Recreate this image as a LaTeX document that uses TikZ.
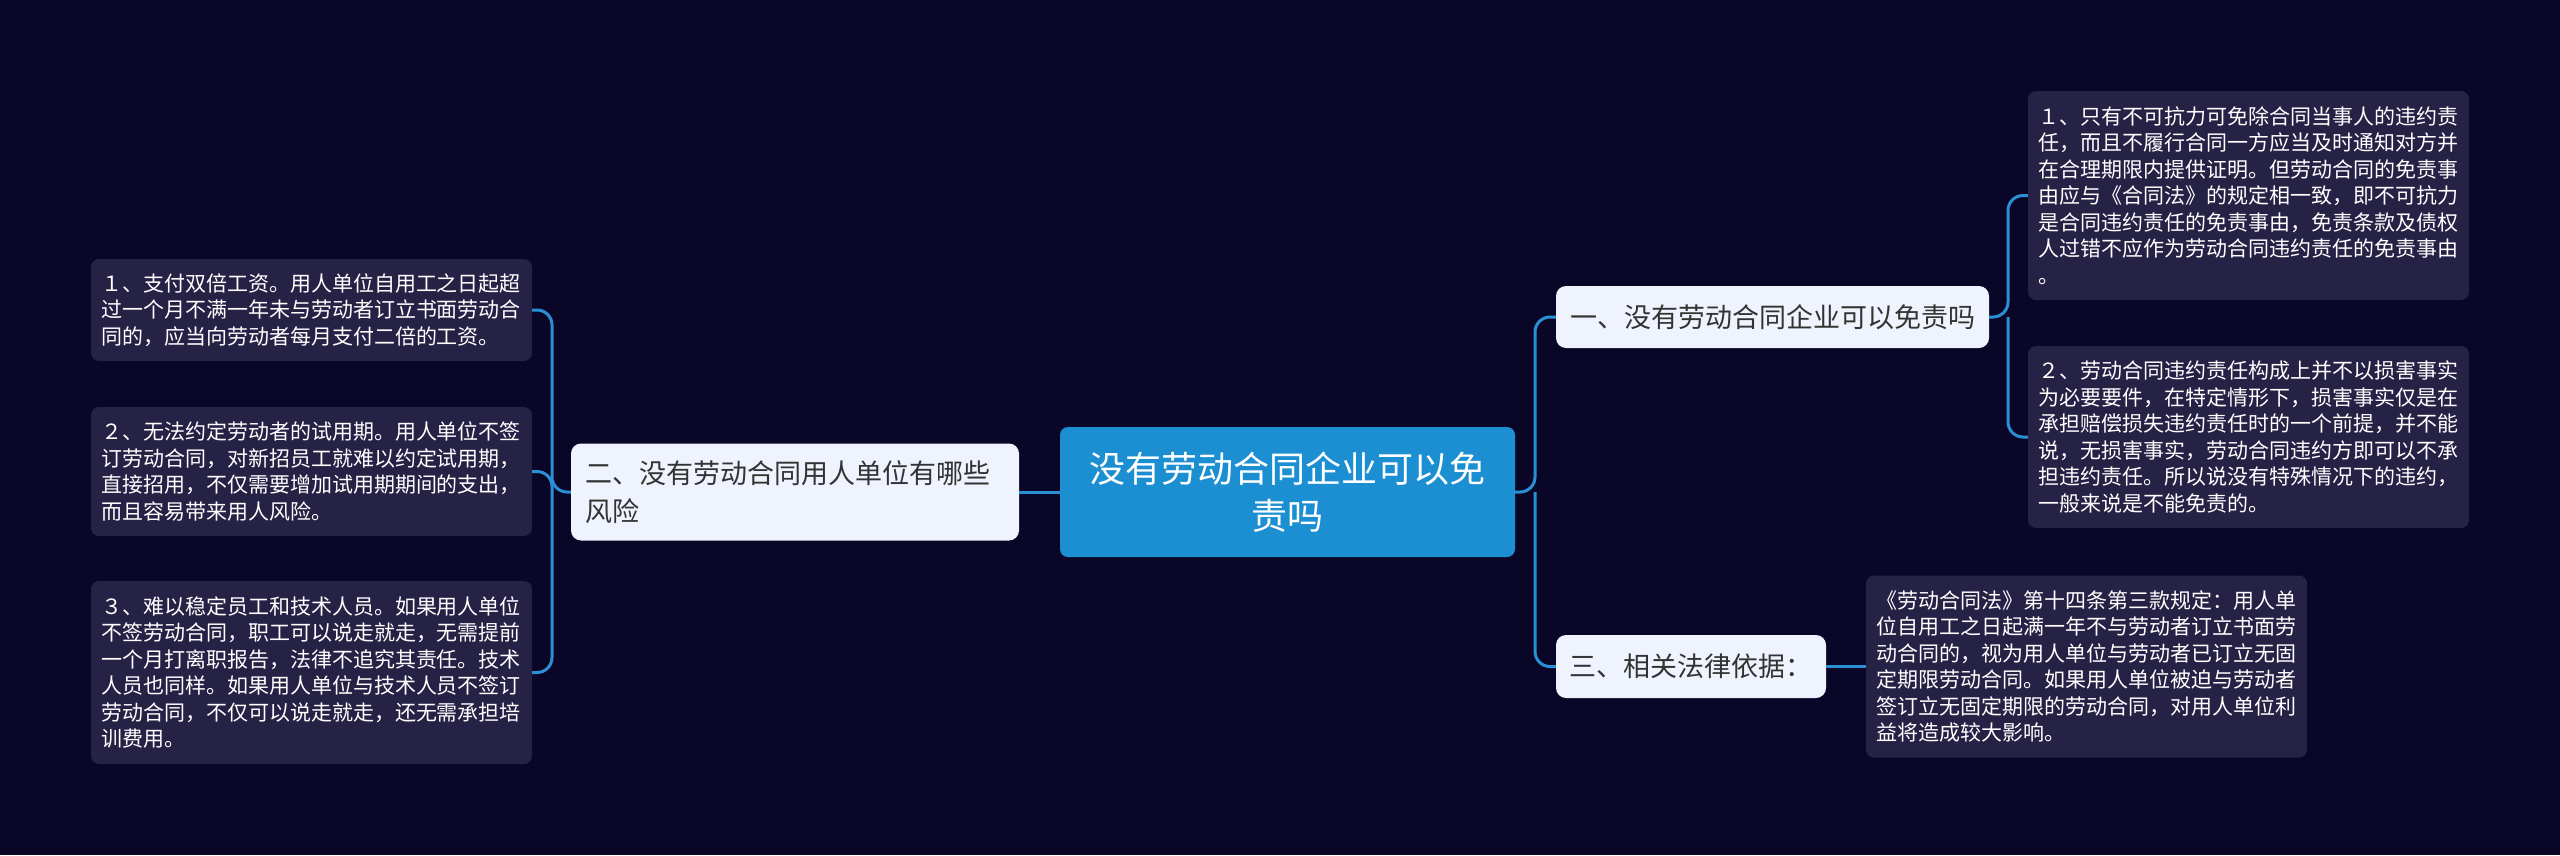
\documentclass[tikz,border=0pt]{standalone}
\usepackage{fontspec}
\newfontfamily\cjk{Noto Sans CJK SC}
\definecolor{bgc}{HTML}{0A0628}
\definecolor{leafc}{HTML}{262246}
\definecolor{connc}{HTML}{2A8FD5}
\definecolor{rootc}{HTML}{1B8FD2}
\definecolor{lightc}{HTML}{EEF3FD}
\definecolor{darktext}{HTML}{333333}
\tikzset{
  leaf/.style={fill=leafc, rounded corners=8pt, text=white,
    font=\cjk\fontsize{21}{26.5}\selectfont, text width=421pt,
    inner xsep=10pt, inner ysep=0pt, align=left},
  rootbox/.style={fill=rootc, rounded corners=8pt, text=white,
    font=\cjk\fontsize{36}{47}\selectfont, text width=420pt,
    inner xsep=17.5pt, inner ysep=0pt, align=center, minimum height=130pt},
  mainbox/.style={fill=lightc, rounded corners=10pt, text=darktext,
    font=\cjk\fontsize{27}{38}\selectfont, inner ysep=0pt, align=left},
  conn/.style={draw=connc, line width=3pt, rounded corners=15pt}
}
\begin{document}
\begin{tikzpicture}[x=1pt,y=-1pt]
\fill[bgc] (0,0) rectangle (2560,855);
\useasboundingbox (0,0) rectangle (2560,855);

% root
\node[rootbox] (root) at (1287.5,492) {没有劳动合同企业可以免\\责吗};

% main branches
\node[mainbox, text width=420pt, inner xsep=14pt, minimum height=97pt] (n2) at (795,492) {二、没有劳动合同用人单位有哪些\\风险};
\node[mainbox, text width=405pt, inner xsep=14pt, minimum height=62pt] (n1) at (1772.5,317) {一、没有劳动合同企业可以免责吗};
\node[mainbox, text width=243pt, inner xsep=13.5pt, minimum height=63pt] (n3) at (1691,666.5) {三、相关法律依据：};

% right leaves
\node[leaf, minimum height=209pt] (r1) at (2248.5,195.5) {１、只有不可抗力可免除合同当事人的违约责\\任，而且不履行合同一方应当及时通知对方并\\在合理期限内提供证明。但劳动合同的免责事\\由应与《合同法》的规定相一致，即不可抗力\\是合同违约责任的免责事由，免责条款及债权\\人过错不应作为劳动合同违约责任的免责事由\\。};
\node[leaf, minimum height=182pt] (r2) at (2248.5,437) {２、劳动合同违约责任构成上并不以损害事实\\为必要要件，在特定情形下，损害事实仅是在\\承担赔偿损失违约责任时的一个前提，并不能\\说，无损害事实，劳动合同违约方即可以不承\\担违约责任。所以说没有特殊情况下的违约，\\一般来说是不能免责的。};
\node[leaf, minimum height=182pt] (r3) at (2086.5,666.5) {《劳动合同法》第十四条第三款规定：用人单\\位自用工之日起满一年不与劳动者订立书面劳\\动合同的，视为用人单位与劳动者已订立无固\\定期限劳动合同。如果用人单位被迫与劳动者\\签订立无固定期限的劳动合同，对用人单位利\\益将造成较大影响。};

% left leaves
\node[leaf, minimum height=102pt] (l1) at (311.5,310) {１、支付双倍工资。用人单位自用工之日起超\\过一个月不满一年未与劳动者订立书面劳动合\\同的，应当向劳动者每月支付二倍的工资。};
\node[leaf, minimum height=129pt] (l2) at (311.5,471.5) {２、无法约定劳动者的试用期。用人单位不签\\订劳动合同，对新招员工就难以约定试用期，\\直接招用，不仅需要增加试用期期间的支出，\\而且容易带来用人风险。};
\node[leaf, minimum height=183pt] (l3) at (311.5,672.5) {３、难以稳定员工和技术人员。如果用人单位\\不签劳动合同，职工可以说走就走，无需提前\\一个月打离职报告，法律不追究其责任。技术\\人员也同样。如果用人单位与技术人员不签订\\劳动合同，不仅可以说走就走，还无需承担培\\训费用。};

% bus coordinates
\coordinate (rbus) at (1535,492);
\coordinate (r1bus) at (2008,317);
\coordinate (lbus) at (552,492);

% connectors
\draw[conn] (root.east) -- (rbus) |- (n1.west);
\draw[conn] (rbus) |- (n3.west);
\draw[conn] (n1.east) -- (r1bus) |- (r1.west);
\draw[conn] (r1bus) |- (r2.west);
\draw[conn] (n3.east) -- (r3.west);
\draw[conn] (root.west) -- (n2.east);
\draw[conn] (n2.west) -- (lbus) |- (l1.east);
\draw[conn] (lbus) |- (l2.east);
\draw[conn] (lbus) |- (l3.east);
\end{tikzpicture}
\end{document}
